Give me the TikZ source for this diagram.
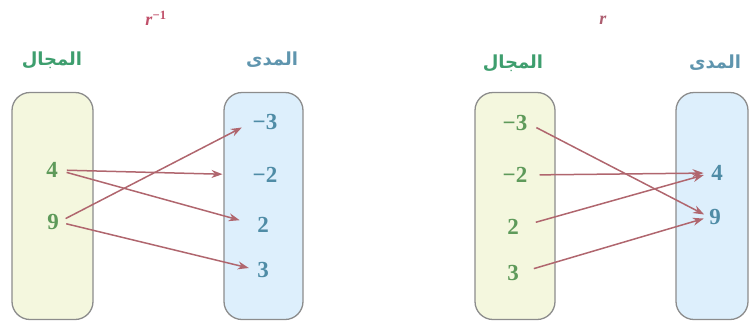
\documentclass[tikz,border=0pt]{standalone}
\usepackage{fontspec}
\setmainfont{Liberation Serif}
\newfontfamily\arabicfont[Script=Arabic]{DejaVu Sans}
\TeXXeTstate=1
\usetikzlibrary{arrows.meta}
\definecolor{domfill}{HTML}{F4F7DE}
\definecolor{rngfill}{HTML}{DDEFFC}
\definecolor{boxline}{HTML}{8C8C8C}
\definecolor{domnum}{HTML}{5E9A5A}
\definecolor{rngnum}{HTML}{4F8CA6}
\definecolor{arrcol}{HTML}{B0666E}
\definecolor{domhead}{HTML}{3E9E6E}
\definecolor{rnghead}{HTML}{5F95AE}
\definecolor{fname}{HTML}{C0506A}
\begin{document}
\begin{tikzpicture}[x=1pt,y=-1pt,
  setbox/.style={draw=boxline,line width=1.3pt,rounded corners=18pt,minimum height=227pt,inner sep=0pt},
  dombox/.style={setbox,fill=domfill},
  rngbox/.style={setbox,fill=rngfill},
  numtxt/.style={inner sep=0pt,font=\bfseries\fontsize{23}{23}\selectfont},
  dnum/.style={numtxt,text=domnum},
  rnum/.style={numtxt,text=rngnum},
  headtxt/.style={inner sep=0pt,font=\arabicfont\bfseries\fontsize{18}{18}\selectfont},
  arr/.style={draw=arrcol,line width=1.5pt,-{Stealth[length=11pt,width=8pt]}}]
\useasboundingbox (0,0) rectangle (750,322);
% left diagram
\node[text=fname,inner sep=0pt,font=\bfseries\fontsize{18}{18}\selectfont] (finv) at (156,18) {\textit{r}\textsuperscript{−1}};
\node[headtxt,text=domhead] (hd1) at (52,60) {\beginR المجال\endR};
\node[headtxt,text=rnghead] (hr1) at (272,60) {\beginR المدى\endR};
\node[dombox,minimum width=81pt] (D1) at (52.5,206) {};
\node[rngbox,minimum width=79pt] (R1) at (263.5,206) {};
\node[dnum] (a4) at (52,170) {4};
\node[dnum] (a9) at (53,222) {9};
\node[rnum] (bm3) at (265,122) {−3};
\node[rnum] (bm2) at (265,175) {−2};
\node[rnum] (b2) at (263,225) {2};
\node[rnum] (b3) at (263,270) {3};
\draw[arr,shorten <=9pt,shorten >=30pt] (a4.east) -- (bm2.west);
\draw[arr,shorten <=9pt,shorten >=18pt] (a4.east) -- (b2.west);
\draw[arr,shorten <=7.5pt,shorten >=12pt] (a9.east) -- (bm3.west);
\draw[arr,shorten <=7.5pt,shorten >=8.5pt] (a9.east) -- (b3.west);
% right diagram
\node[text=fname!70!gray,inner sep=0pt,font=\bfseries\fontsize{18}{18}\selectfont] (fr) at (603,20) {\textit{r}};
\node[headtxt,text=domhead] (hd2) at (513,63) {\beginR المجال\endR};
\node[headtxt,text=rnghead] (hr2) at (715,63) {\beginR المدى\endR};
\node[dombox,minimum width=80pt] (D2) at (515,206) {};
\node[rngbox,minimum width=72pt] (R2) at (712,206) {};
\node[dnum] (cm3) at (515,123) {−3};
\node[dnum] (cm2) at (515,175) {−2};
\node[dnum] (c2) at (513,227) {2};
\node[dnum] (c3) at (513,273) {3};
\node[rnum] (e4) at (717,173) {4};
\node[rnum] (e9) at (715,217) {9};
\draw[arr,shorten <=10pt,shorten >=5.5pt] (cm3.east) -- (e9.west);
\draw[arr,shorten <=12pt,shorten >=7.5pt] (cm2.east) -- (e4.west);
\draw[arr,shorten <=17.5pt,shorten >=7.5pt] (c2.east) -- (e4.west);
\draw[arr,shorten <=15.5pt,shorten >=5.5pt] (c3.east) -- (e9.west);
\end{tikzpicture}
\end{document}
